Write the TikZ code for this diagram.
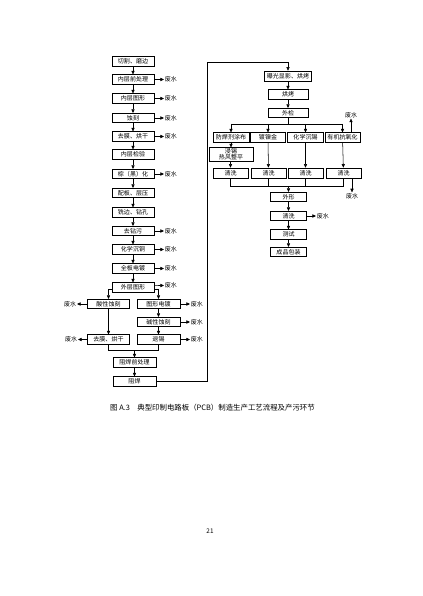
\documentclass[tikz,border=0pt]{standalone}
\usepackage{fontspec}
\setmainfont{Noto Sans CJK SC}
\usetikzlibrary{arrows.meta}
\begin{document}
\begin{tikzpicture}[x=0.4976mm,y=-0.4976mm,
  bx/.style={draw=black,line width=0.9pt,fill=white,inner sep=0pt,minimum height=9.5*0.4976mm,font=\fontsize{8.5}{8.5}\selectfont},
  bw/.style={minimum width=#1*0.4976mm},
  ln/.style={line width=0.75pt},
  ar/.style={ln,-{Triangle[length=1.8mm,width=1.6mm]}},
  lbl/.style={inner sep=1pt,font=\fontsize{8.5}{9}\selectfont}]
\useasboundingbox (0,0) rectangle (422,596);
\fill[white] (0,0) rectangle (422,596);
% left column
\node[bx,bw=42] (L1) at (133,61.5) {切割、磨边};
\node[bx,bw=42] (L2) at (133,79.5) {内层前处理};
\node[bx,bw=42] (L3) at (133,98.5) {内层图形};
\node[bx,bw=42] (L4) at (133,118) {蚀刻};
\node[bx,bw=42] (L5) at (133,136.5) {去膜、烘干};
\node[bx,bw=42] (L6) at (133,154.5) {内层检验};
\node[bx,bw=42] (L7) at (133,174) {棕（黑）化};
\node[bx,bw=42] (L8) at (133,193) {配板、层压};
\node[bx,bw=42] (L9) at (133,212.5) {铣边、钻孔};
\node[bx,bw=42] (L10) at (133,231) {去钻污};
\node[bx,bw=42] (L11) at (133,249.5) {化学沉铜};
\node[bx,bw=42] (L12) at (133,268.5) {全板电镀};
\node[bx,bw=42] (L13) at (133,287.5) {外层图形};
\foreach \a/\b in {L1/L2,L2/L3,L3/L4,L4/L5,L5/L6,L6/L7,L7/L8,L8/L9,L9/L10,L10/L11,L11/L12,L12/L13}
  \draw[ar] (\a) -- (\b);
\foreach \n/\y in {L2/79.5,L3/98.5,L4/118,L5/136.5,L7/174,L10/231,L11/249.5,L12/268.5}{
  \node[lbl,anchor=west] (w\n) at (164,\y) {废水};
  \draw[ar] (\n) -- (w\n);
}
\node[lbl,anchor=west] (wL13) at (164,285.5) {废水};
\draw[ar] ([yshift=2.8pt]L13.east) -- (wL13.west);
% split
\node[bx,bw=42] (A1) at (108.5,304) {酸性蚀刻};
\node[bx,bw=43] (B1) at (158.5,304) {图形电镀};
\node[bx,bw=43] (B2) at (158.5,322) {碱性蚀刻};
\node[bx,bw=42] (A2) at (108.5,339.5) {去膜、烘干};
\node[bx,bw=43] (B3) at (158.5,339.5) {退锡};
\draw[ar] ([yshift=-2pt]L13.west) -| (A1);
\draw[ar] ([yshift=-2pt]L13.east) -| (B1);
\draw[ar] (A1) -- (A2);
\draw[ar] (B1) -- (B2);
\draw[ar] (B2) -- (B3);
\node[lbl,anchor=east] (wA1) at (77,304) {废水};
\node[lbl,anchor=east] (wA2) at (78,339.5) {废水};
\node[lbl,anchor=west] (wB1) at (190,304) {废水};
\node[lbl,anchor=west] (wB2) at (190,322) {废水};
\node[lbl,anchor=west] (wB3) at (190,339.5) {废水};
\draw[ar] (A1) -- (wA1);
\draw[ar] (A2) -- (wA2);
\draw[ar] (B1) -- (wB1);
\draw[ar] (B2) -- (wB2);
\draw[ar] (B3) -- (wB3);
\coordinate (m1) at (134.5,350);
\draw[ln] (A2.south) -- (A2.south |- m1) -- (B3.south |- m1) -- (B3.south);
\node[bx,bw=43] (Z1) at (134.5,362.5) {阻焊前处理};
\node[bx,bw=43] (Z2) at (134.5,381.5) {阻焊};
\draw[ar] (m1) -- (Z1);
\draw[ar] (Z1) -- (Z2);
% right column
\node[bx,bw=47,minimum height=10*0.4976mm] (R1) at (288,76) {曝光显影、烘烤};
\node[bx,bw=40] (R2) at (288,94.5) {烘烤};
\node[bx,bw=40] (R3) at (288,113) {外检};
\coordinate (c2) at (207,62);
\draw[ar] (Z2.east) -| (c2) -| (R1.north);
\draw[ar] (R1) -- (R2);
\draw[ar] (R2) -- (R3);
\node[bx,bw=36] (C1) at (231,137.5) {防焊剂涂布};
\node[bx,bw=35] (C2) at (268,137.5) {镀镍金};
\node[bx,bw=36] (C3) at (305.5,137.5) {化学沉锡};
\node[bx,bw=35] (C4) at (342.5,137.5) {有机抗氧化};
\coordinate (br) at (288,124);
\draw[ln] (R3) -- (br);
\draw[ln] (C1.north |- br) -- (C4.north |- br);
\foreach \c in {C1,C2,C3,C4} \draw[ar] (\c.north |- br) -- (\c);
\node[lbl] (wC4) at (351,115) {废水};
\draw[ar] (C4.north -| wC4) -- (wC4);
\node[bx,bw=44,minimum height=13.5*0.4976mm,align=center,font=\fontsize{8.5}{8.5}\selectfont] (D) at (231,154.5) {浸锡\\热风整平};
\node[bx,bw=35,minimum height=10*0.4976mm] (E1) at (230.5,173) {清洗};
\node[bx,bw=35,minimum height=10*0.4976mm] (E2) at (268.5,173) {清洗};
\node[bx,bw=35,minimum height=10*0.4976mm] (E3) at (305.5,173) {清洗};
\node[bx,bw=35,minimum height=10*0.4976mm] (E4) at (343.5,173) {清洗};
\draw[ar] (C1) -- (D);
\draw[ar] (D.south -| E1) -- (E1);
\draw[ar] (C2) -- (E2);
\draw[ar] (C3) -- (E3);
\draw[ar] (C4) -- (E4);
\coordinate (m2) at (288.5,186);
\draw[ln] (E1.south) -- (E1.south |- m2) -- (E4.south |- m2) -- (E4.south);
\draw[ln] (E2.south) -- (E2.south |- m2);
\draw[ln] (E3.south) -- (E3.south |- m2);
\node[lbl] (wE4) at (352,196) {废水};
\draw[ar] (E4.south -| wE4) -- (wE4);
\node[bx,bw=36] (F1) at (288.5,197) {外形};
\node[bx,bw=36] (F2) at (288.5,216) {清洗};
\node[bx,bw=36] (F3) at (288.5,234.5) {测试};
\node[bx,bw=36] (F4) at (288.5,252) {成品包装};
\draw[ar] (m2) -- (F1);
\draw[ar] (F1) -- (F2);
\draw[ar] (F2) -- (F3);
\draw[ar] (F3) -- (F4);
\node[lbl,anchor=west] (wF2) at (316,216) {废水};
\draw[ar] (F2) -- (wF2);
% caption and page number
\node[inner sep=0pt,font=\fontsize{10.5}{12}\selectfont] (cap) at (212.5,408) {图 A.3\quad 典型印制电路板（PCB）制造生产工艺流程及产污环节};
\node[inner sep=0pt,font=\fontsize{9}{10}\selectfont] (pg) at (210,531) {21};
\end{tikzpicture}
\end{document}
